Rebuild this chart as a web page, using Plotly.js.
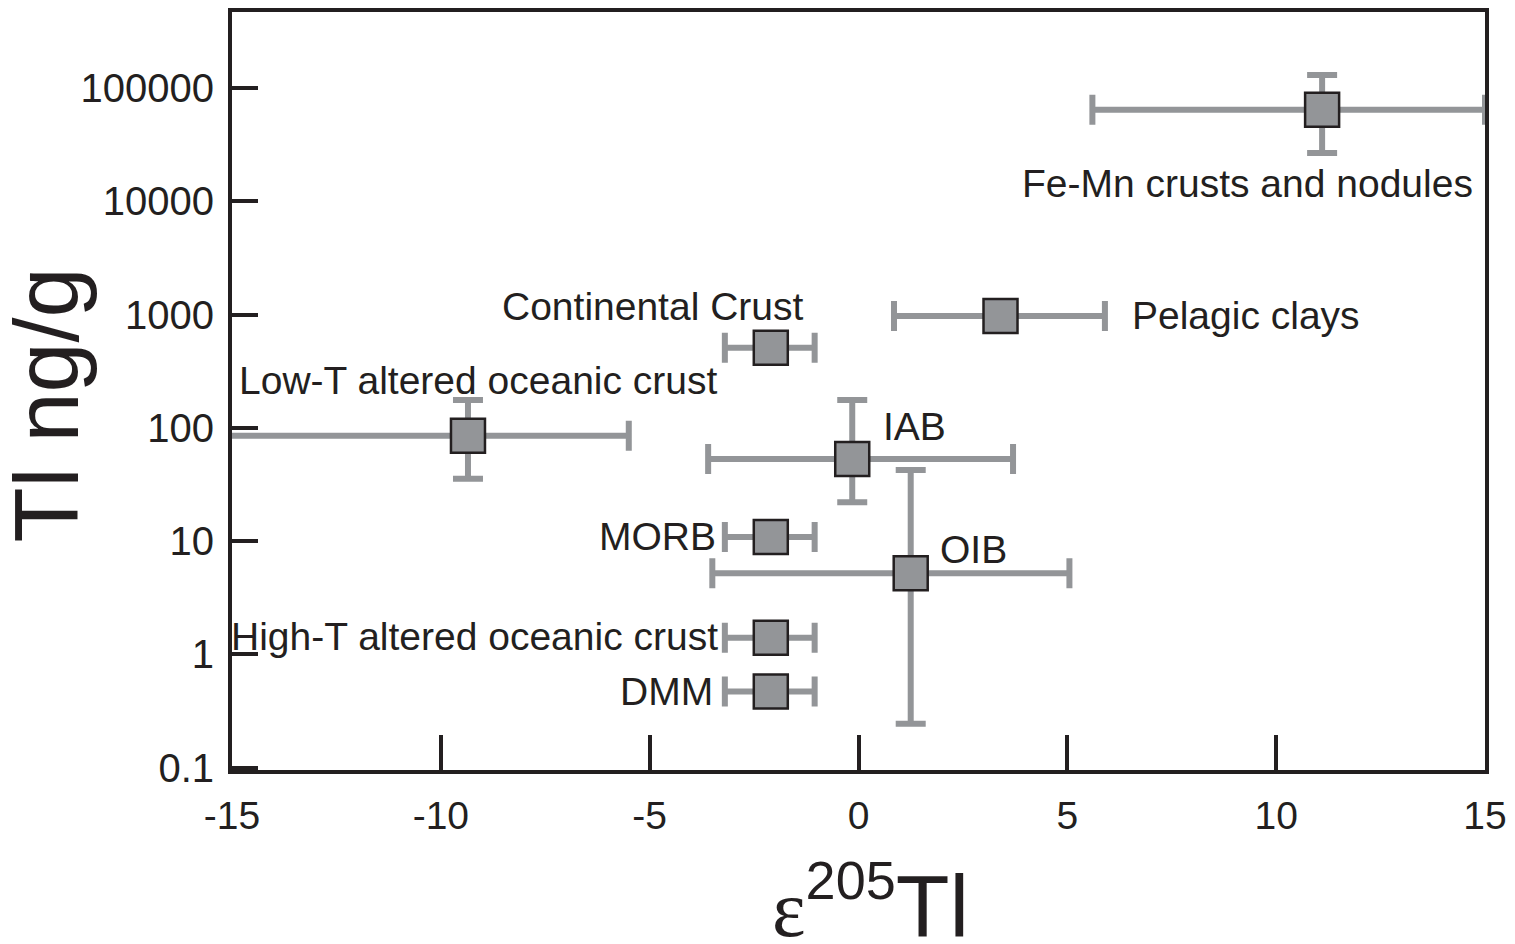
<!DOCTYPE html>
<html>
<head>
<meta charset="utf-8">
<script src="https://cdn.plot.ly/plotly-3.0.1.min.js"></script>
<style>html,body{margin:0;padding:0;background:#fff;}#chart{width:1515px;height:944px;}</style>
</head>
<body>
<div id="chart"></div>
<script>
// Reservoir names
const reservoirs = ["Fe-Mn crusts and nodules","Pelagic clays","Continental Crust","Low-T altered oceanic crust","IAB","MORB","OIB","High-T altered oceanic crust","DMM"];
// epsilon 205Tl central values and ranges
const epsTl    = [11.1, 3.4, -2.1, -9.35, -0.15, -2.1, 1.25, -2.1, -2.1];
const epsLow   = [5.6, 0.85, -3.2, -15.5, -3.6, -3.2, -3.5, -3.2, -3.2];
const epsHigh  = [15.0, 5.9, -1.05, -5.5, 3.7, -1.05, 5.05, -1.05, -1.05];
// Tl concentration (ng/g) central values and ranges
const tlConc   = [64000, 970, 510, 85, 53, 10.9, 5.2, 1.4, 0.47];
const tlLow    = [26700, 970, 510, 35.5, 22, 10.9, 0.245, 1.4, 0.47];
const tlHigh   = [130000, 970, 510, 176, 176, 10.9, 42.5, 1.4, 0.47];
// axis ticks
const yTickVals = [0.1, 1, 10, 100, 1000, 10000, 100000];
const yTickText = ["0.1", "1", "10", "100", "1000", "10000", "100000"];
const xTickVals = [-15, -10, -5, 0, 5, 10, 15];
const xTickText = ["-15", "-10", "-5", "0", "5", "10", "15"];
// axis titles
const xTitle = "<span style='font-family:\"Liberation Serif\";font-size:80px'>ε</span><sup><span style='font-size:54px'>205</span></sup>Tl";
const yTitle = "Tl ng/g";

// label placement (data coords; y in log10 units)
const labelX = [14.76, 6.5, -1.28, -14.88, 0.54, -3.36, 1.9, -3.32, -3.44];
const labelLogY = [4.16, 2.99, 3.07, 2.42, 2.01, 1.037, 0.93, 0.155, -0.33];
const labelAnchor = ["right","left","right","left","left","right","left","right","right"];

const grey = "#939598";
const dark = "#231f20";
const font = "'Liberation Sans', Arial, Helvetica, sans-serif";

const trace = {
  type: "scatter", mode: "markers",
  x: epsTl, y: tlConc,
  marker: {symbol: "square", size: 34, color: grey, line: {color: dark, width: 2.5}},
  error_x: {type: "data", symmetric: false,
    array: epsHigh.map((h, i) => h - epsTl[i]),
    arrayminus: epsTl.map((v, i) => v - epsLow[i]),
    color: grey, thickness: 6, width: 15},
  error_y: {type: "data", symmetric: false,
    array: tlHigh.map((h, i) => h - tlConc[i]),
    arrayminus: tlConc.map((v, i) => v - tlLow[i]),
    color: grey, thickness: 6, width: 15},
  hoverinfo: "skip"
};

const annotations = reservoirs.map((r, i) => ({
  text: r, x: labelX[i], y: labelLogY[i], xref: "x", yref: "y",
  xanchor: labelAnchor[i], yanchor: "middle", showarrow: false,
  font: {family: font, size: 39, color: dark}
}));
annotations.push({
  text: xTitle, xref: "paper", yref: "paper", x: 0.5095, y: -0.247,
  xanchor: "center", yanchor: "bottom", showarrow: false,
  font: {family: font, size: 88, color: dark}
});
annotations.push({
  text: yTitle, xref: "paper", yref: "paper", x: -0.148, y: 0.4815, textangle: -90,
  xanchor: "center", yanchor: "middle", showarrow: false,
  font: {family: font, size: 90, color: dark}
});

const layout = {
  width: 1515, height: 944,
  margin: {l: 232, r: 30, t: 12, b: 174},
  paper_bgcolor: "#fff", plot_bgcolor: "#fff",
  showlegend: false,
  font: {family: font, color: dark},
  xaxis: {
    range: [-15, 15], tickvals: xTickVals, ticktext: xTickText, ticks: "inside", ticklen: 35, tickwidth: 4, tickcolor: dark,
    showline: true, linewidth: 4, linecolor: dark, mirror: true, showgrid: false, zeroline: false,
    tickfont: {family: font, size: 39, color: dark}, ticklabelstandoff: 8
  },
  yaxis: {
    type: "log", range: [-1.02, 5.67], tickvals: yTickVals, ticktext: yTickText,
    ticks: "inside", ticklen: 26, tickwidth: 4, tickcolor: dark,
    showline: true, linewidth: 4, linecolor: dark, mirror: true, showgrid: false, zeroline: false,
    tickfont: {family: font, size: 40, color: dark}, ticklabelstandoff: 6
  },
  annotations: annotations
};

Plotly.newPlot("chart", [trace], layout, {displayModeBar: false, staticPlot: true});
</script>
</body>
</html>
